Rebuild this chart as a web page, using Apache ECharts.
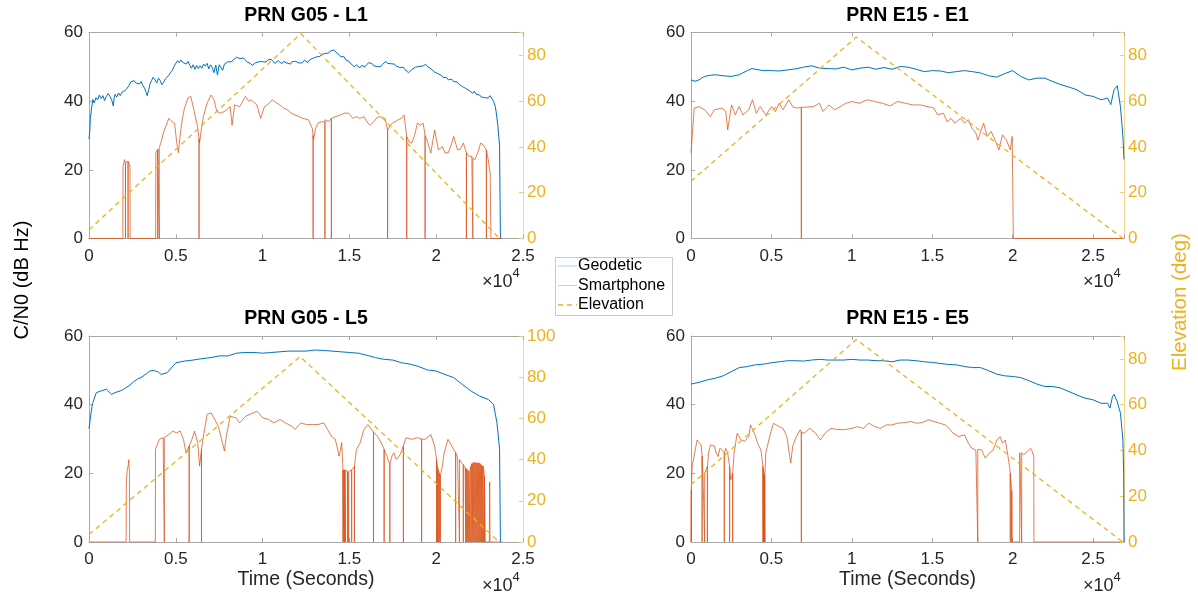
<!DOCTYPE html>
<html>
<head>
<meta charset="utf-8">
<script src="https://cdn.jsdelivr.net/npm/echarts@6/dist/echarts.min.js"></script>
<style>
html,body{margin:0;padding:0;background:#fff;}
#chart{width:1198px;height:596px;}
</style>
</head>
<body>
<div id="chart"></div>
<script>
// ---------------- DATA ----------------
const panelTitles = ['PRN G05 - L1', 'PRN E15 - E1', 'PRN G05 - L5', 'PRN E15 - E5'];
const seriesNames = ['Geodetic', 'Smartphone', 'Elevation'];
const xTickValues = [0, 5000, 10000, 15000, 20000, 25000];
const xTickLabels = ['0', '0.5', '1', '1.5', '2', '2.5'];
const xMax = [25000, 26920, 25000, 26920];
const elevMax = [90, 90, 100, 90];

// Time (s), C/N0 (dB Hz)
const geoL1 = [[0,29],[40,31],[80,35],[150,38],[220,40.5],[300,39.5],[400,41],[500,40.4],[600,41.8],[700,40.8],[800,41.6],[900,40.2],[1000,41.4],[1100,42.2],[1200,41.5],[1300,40.5],[1400,38.6],[1450,41],[1500,42],[1600,41.2],[1700,42.4],[1800,41.6],[1900,42.6],[2000,42.3],[2100,43.2],[2200,43.8],[2300,44.5],[2400,45.6],[2500,45.2],[2600,46],[2700,45.3],[2800,45.8],[2900,45],[3000,45.7],[3100,44.6],[3200,43.8],[3300,42.5],[3350,41.6],[3450,43.5],[3500,44.8],[3600,46],[3700,47],[3800,46.2],[3900,45.3],[4000,46.7],[4100,46],[4200,44.8],[4300,45.5],[4400,46.5],[4500,46.2],[4600,47.5],[4700,48.4],[4800,49],[4900,50.2],[5000,50.6],[5100,51.8],[5200,51.2],[5300,52],[5400,51.3],[5500,51.5],[5600,50.8],[5700,51.6],[5800,50.5],[5900,49.6],[6000,50.6],[6100,49.3],[6200,50.4],[6300,49.5],[6400,50.3],[6500,49.6],[6600,50.8],[6700,50.2],[6800,51],[6900,49.4],[7000,50.6],[7100,49.8],[7200,48.3],[7300,50.5],[7400,47.6],[7500,50.6],[7600,51],[7700,49],[7800,50.8],[7900,51.2],[8000,51.5],[8100,52],[8200,51.4],[8300,52],[8400,52.4],[8500,52.8],[8600,53.1],[8700,52.4],[8800,52.2],[8900,52.6],[9000,52],[9100,51.4],[9200,51.8],[9300,51],[9400,50.4],[9500,50.6],[9600,51.2],[9700,50.8],[9800,51.5],[9900,51],[10000,51.5],[10100,51.9],[10200,51.4],[10300,52],[10400,51.6],[10500,52.2],[10600,51.7],[10700,51],[10800,51.2],[10900,51.8],[11000,51.3],[11100,50.9],[11200,51.6],[11300,51.8],[11400,51.1],[11500,51.3],[11600,50.8],[11700,51.5],[11800,51],[11900,51.6],[12000,51.5],[12100,51.1],[12200,51.6],[12300,51.2],[12400,51.9],[12500,51.7],[12600,51.3],[12700,52],[12800,52],[12900,52.5],[13000,52.5],[13100,52.9],[13200,52.4],[13300,53],[13400,53.6],[13500,53.5],[13600,53.9],[13700,53.6],[13800,54],[13900,54.6],[14000,54.5],[14100,54.9],[14200,54.8],[14300,54],[14400,53.6],[14500,53],[14600,52.6],[14700,52.9],[14800,52],[14900,51.7],[15000,51.5],[15100,50.8],[15200,50.3],[15300,50],[15400,50.6],[15500,50.1],[15600,49.7],[15700,50.4],[15800,50.5],[15900,50],[16000,50.6],[16100,51.2],[16200,50.7],[16300,51],[16400,50.3],[16500,50.6],[16600,50.1],[16700,50.4],[16800,50],[16900,50.7],[17000,51.1],[17100,51.6],[17200,51],[17300,51.5],[17400,50.9],[17500,51.3],[17600,50.8],[17700,50.2],[17800,50.5],[17900,49.8],[18000,49.6],[18100,49.9],[18200,49.2],[18300,49],[18400,48.3],[18500,48.6],[18600,49.2],[18700,49.5],[18800,49.9],[18900,50.4],[19000,50.1],[19100,50.6],[19200,50.2],[19300,50.5],[19400,50.7],[19500,50.1],[19600,49.6],[19700,49.4],[19800,49],[19900,48.5],[20000,48.2],[20100,48],[20200,47.6],[20300,47.5],[20400,46.9],[20500,46.7],[20600,46.9],[20700,46.2],[20800,46],[20900,46.4],[21000,45.7],[21100,45.2],[21200,45.6],[21300,45],[21400,44.6],[21500,44.3],[21600,44.8],[21700,43.7],[21800,43.5],[21900,43.1],[22000,42.8],[22100,42.3],[22200,42.9],[22300,42],[22400,41.5],[22500,41.8],[22600,41.2],[22700,41.6],[22800,41],[22900,40.5],[23000,40.9],[23100,41.6],[23150,42],[23200,41.2],[23300,40],[23400,38.5],[23450,37],[23550,33],[23650,27],[23700,0]];
const phoneL1 = [[0,0],[1950,0],[1960,21],[2050,23],[2200,22],[2300,23],[2360,21],[2370,0],[3840,0],[3850,25],[4000,26],[4150,28],[4300,31],[4450,33],[4600,35],[4800,34],[4930,33.6],[5050,28],[5150,25],[5250,30],[5370,34.6],[5500,38],[5700,40.9],[5860,41.4],[6040,37.5],[6250,32.6],[6370,27.8],[6450,31],[6590,35.5],[6800,39.4],[7030,41.8],[7200,40.4],[7360,37],[7580,36.5],[7800,37],[7900,37.5],[8130,38.4],[8240,33],[8390,38.9],[8680,38.4],[9010,41.4],[9200,40],[9340,40.4],[9670,38.9],[9890,35],[10110,38.4],[10300,39],[10550,40.4],[10800,39.5],[10990,38.9],[11200,38],[11430,37.5],[11650,36.5],[11870,36],[12100,35.5],[12310,35],[12640,34.6],[12860,32.1],[12930,28.7],[13050,32],[13190,33.6],[13400,34],[13600,34.6],[13800,34],[13960,35],[14200,35.5],[14510,36],[14700,36.5],[14960,36.5],[15200,35],[15400,35.5],[15600,35],[15840,35.5],[16060,33.6],[16200,33],[16390,34],[16550,35],[16720,35.5],[17050,35],[17200,31.6],[17350,33],[17490,33.6],[17820,34.6],[18000,35],[18150,36],[18300,29.7],[18450,28],[18590,27.8],[18750,30],[18920,33.6],[19100,33],[19250,33.6],[19360,30],[19470,28.7],[19690,24.9],[19910,31.6],[20130,25.8],[20350,26.8],[20500,25],[20680,24.9],[20850,27],[21010,29.7],[21230,25.8],[21400,26],[21560,27.8],[21740,25],[21890,23.9],[22050,24],[22220,22.9],[22400,25],[22560,27.8],[22710,27.3],[22890,25.8],[23000,22.9],[23110,19],[23150,0],[23800,0]];
const dropsL1 = [[2100,22],[2250,22.5],[3960,26],[4050,26.5],[6340,29],[12910,30],[13590,34],[13960,35],[17200,31.6],[18300,29.7],[19360,30],[21740,25],[22110,23.5],[22890,25.8]];
const elevL1 = [[0,3.8],[12200,89.5],[23650,0]];

const geoE1 = [[0,46.2],[250,45.8],[500,46.2],[750,47],[1000,47.4],[1500,47.7],[2000,47.4],[2500,47.2],[3000,47.7],[3500,48.9],[3800,49.5],[4000,49.3],[4500,48.9],[5000,48.9],[5500,48.8],[6000,49.1],[6500,49.4],[7000,49.9],[7500,50.3],[8000,49.6],[8500,49.5],[9000,49.4],[9500,49.9],[10000,49.1],[10500,49.6],[11000,49.9],[11500,49.3],[12000,49.8],[12500,49.3],[13000,50.1],[13500,49.9],[14000,49.3],[14500,48.6],[15000,48.9],[15500,48.8],[16000,48.3],[16500,48.6],[17000,48.9],[17500,48.6],[18000,48.2],[18500,47.4],[19000,47],[19500,48],[20000,48.9],[20500,47.2],[21000,46.2],[21500,46.7],[22000,46.7],[22500,45.7],[23000,44.8],[23500,44.1],[24000,43.3],[24500,41.8],[25000,41.4],[25500,40.4],[25900,40.9],[26100,39],[26300,43.3],[26500,44.5],[26700,38.4],[26850,30],[26920,23]];
const phoneE1 = [[0,25],[80,30],[200,38],[500,38.4],[850,37.5],[1210,35.5],[1450,37.5],[1920,38],[2160,37],[2280,31.6],[2520,38.9],[2750,36],[2990,38.4],[3230,36],[3590,37.5],[3820,40.4],[4060,36.5],[4300,38.4],[4650,36],[5010,38.4],[5250,37],[5480,39.4],[5720,37.5],[6080,40.4],[6320,38.4],[6550,38],[6860,38.2],[7260,38.3],[7620,38.4],[7980,39.4],[8210,37],[8570,38.9],[8930,37.5],[9280,38.4],[9640,39.4],[10000,39.9],[10470,39.4],[10950,40.4],[11420,39.9],[11900,39.4],[12370,38.6],[12840,39.9],[13320,39.4],[13790,38.9],[14270,38.9],[14740,38.4],[15100,38],[15330,36],[15690,36.5],[15930,34],[16170,35],[16400,33.6],[16760,35],[17000,33.6],[17240,34.6],[17470,32.1],[17710,30.7],[17830,28.7],[18190,33.6],[18420,29.7],[18660,31.2],[18900,28.7],[19140,25.8],[19370,30.2],[19610,28.7],[19850,25.8],[19970,29.7],[20040,0],[26920,0]];
const dropsE1 = [[6860,38.2]];
const elevE1 = [[0,25],[10280,88],[26850,0]];

const geoL5 = [[0,33],[100,37],[200,40.3],[420,43.5],[700,44],[1000,44.5],[1300,43],[1500,43.5],[1800,44],[2000,44.5],[2300,45.5],[2500,46.4],[2800,47.5],[3000,47.9],[3300,49],[3500,49.8],[3700,50],[4000,49.5],[4160,48.8],[4500,49.3],[4800,51],[5000,52.2],[5500,52.7],[6000,53],[6500,53.4],[7000,53.7],[7500,54.2],[8000,54.2],[8500,55],[9000,55.2],[9500,55.2],[10000,55],[10500,55.2],[11000,55.4],[11500,55.6],[12000,55.6],[12500,55.6],[13000,55.9],[13500,55.8],[14000,55.6],[14500,55.4],[15000,55.2],[15500,55],[16000,54.4],[16500,53.7],[17000,53.2],[17500,53],[18000,52.2],[18500,51.8],[19000,51.1],[19500,50.1],[20000,49.8],[20500,48.8],[21000,47.9],[21500,45.9],[22000,44],[22500,42.5],[23000,41.5],[23300,40.1],[23500,34.7],[23650,27],[23700,0]];
const phoneL5 = [[0,0],[2140,0],[2150,17],[2200,21],[2250,22],[2290,24],[2330,20],[2340,0],[3820,0],[3830,27],[4050,29.9],[4270,30.4],[4600,31.3],[4820,32.3],[5040,31.8],[5260,32.3],[5440,29.9],[5590,26],[5770,28],[5930,29.9],[6080,32.3],[6260,28.9],[6370,22.1],[6480,27],[6590,30.8],[6810,37.2],[7030,37.6],[7250,35.7],[7470,33.3],[7690,28.9],[7800,26.5],[7910,30.8],[8130,36.6],[8460,36.2],[8680,34.7],[9010,36.6],[9450,37.6],[9670,38.1],[10000,36.2],[10330,35.7],[10660,34.7],[10990,35.7],[11320,34.7],[11650,33.8],[11870,32.8],[12200,34.7],[12530,34.2],[12860,34.2],[13190,34.2],[13520,34.7],[13740,32.8],[13960,30.8],[14190,29.9],[14410,25],[14560,28.9],[14630,21.1],[14800,21],[14960,20.5],[15180,21],[15300,22],[15400,26.9],[15620,28.9],[15840,32.8],[16060,34.2],[16280,32.8],[16610,30.8],[16830,28.9],[17000,27],[17160,25],[17330,22.6],[17450,25],[17560,26],[17710,24],[17930,25.5],[18110,28],[18260,30.4],[18590,29.9],[18920,30.4],[19160,30],[19360,29.9],[19690,31.3],[19910,27.9],[20070,22.1],[20240,19.2],[20350,22],[20460,26],[20680,29.9],[20900,27.9],[21120,26],[21230,24.5],[21450,23.1],[21670,21.6],[21890,20.6],[22110,23.1],[22440,23.1],[22710,22.1],[22780,19.2],[22830,0],[23060,0],[23080,17.5],[23100,0],[23800,0]];
const dropsL5 = [[4340,30.5],[5770,28],[6480,27],[14630,21],[14680,21],[14720,21],[14780,21],[14900,20.5],[14960,20.5],[15130,21],[15290,22],[16390,32],[17000,27],[17330,22.6],[18110,28],[19160,30],[20020,24],[20070,22],[20120,21],[20180,20],[20240,19.2],[21120,26],[21340,24],[21560,22.5],[21700,21.6],[21760,21.3],[21820,21],[21880,20.6],[21940,21],[22000,22],[22060,22.8],[22120,23.1],[22180,23.2],[22240,23.2],[22300,23.1],[22360,23],[22420,23.1],[22480,23],[22540,22.8],[22600,22.5],[22660,22.2],[22720,22],[22780,19.2]];
const elevL5 = [[0,3.6],[12160,90],[23620,0]];

const geoE5 = [[0,46],[500,46.5],[1000,47.2],[1500,47.7],[2000,48.4],[2500,49.6],[3000,50.8],[3500,51.1],[4000,51.6],[4500,51.8],[5000,52.2],[5500,52.5],[6000,52.8],[6500,52.8],[7000,52.7],[7500,53],[8000,53.2],[8500,53],[9000,53],[9500,53],[10000,53.2],[10500,53],[11000,53],[11500,52.8],[12000,52.8],[12500,52.5],[13000,53],[13500,53],[14000,52.8],[14500,52.5],[15000,52.3],[15500,52],[16000,51.7],[16500,51.6],[17000,51.1],[17500,50.8],[18000,50.8],[18500,49.9],[19000,48.9],[19500,48.4],[20000,48.2],[20500,47.9],[21000,47],[21500,46],[22000,45.3],[22500,45.3],[23000,44.8],[23500,43.8],[24000,42.8],[24500,41.9],[25000,41.4],[25500,40.4],[25900,40.4],[26050,39],[26200,42.3],[26300,43],[26500,40.9],[26700,37.5],[26850,30],[26900,20],[26920,0]];
const phoneE5 = [[0,0],[70,22],[140,22],[380,29.7],[500,30.2],[620,28.3],[740,20],[850,20],[970,20],[1090,25.9],[1210,28.3],[1450,28],[1570,25.9],[1690,24.9],[1800,27.3],[1920,26.8],[2070,26],[2160,27.3],[2280,25.9],[2400,22],[2470,18.1],[2590,20],[2680,25.9],[2870,31.7],[3110,29.7],[3350,29.3],[3590,30.7],[3700,34.1],[3940,31.7],[4180,28.3],[4350,26.8],[4490,21],[4580,19.1],[4650,25.9],[4890,30.7],[5130,34.6],[5480,33.6],[5720,33.1],[5960,30.7],[6080,26.8],[6200,23],[6320,27.8],[6550,30.7],[6790,32.7],[7030,31.7],[7380,33.1],[7740,31.7],[8050,29.7],[8330,31.7],[8690,33.1],[9050,32.8],[9520,32.7],[10000,33.1],[10350,33.6],[10710,33.1],[11060,34.6],[11420,33.6],[11780,33.1],[12130,34.1],[12490,34.1],[12840,34.6],[13320,34.8],[13670,35.1],[14030,34.6],[14390,34.8],[14740,35.6],[15100,35.1],[15460,34.6],[15810,34.1],[16050,33.1],[16290,31.7],[16640,30.7],[17000,31.2],[17240,28.8],[17470,27.3],[17710,26.8],[17830,27],[18070,26.8],[18300,24.4],[18540,25.9],[18780,26.8],[19020,29.7],[19210,30.7],[19370,28.8],[19540,29.7],[19680,25.9],[19800,22],[19900,17.2],[19960,0],[20430,0],[20440,26],[20490,26.4],[20680,25.4],[20920,26.4],[21110,27.3],[21200,26.5],[21310,25],[21320,0],[26920,0]];
const dropsE5 = [[20,15],[690,25],[850,20],[1020,22],[2070,26],[2400,22],[2590,20],[4470,22],[4510,21],[4530,20],[4560,19.5],[4600,20],[6860,32],[17830,27],[19850,20],[19940,15],[20560,26]];
const elevE5 = [[0,25],[10280,88.5],[26850,0]];

const geoData = [geoL1, geoE1, geoL5, geoE5];
const phoneData = [phoneL1, phoneE1, phoneL5, phoneE5];
const dropData = [dropsL1, dropsE1, dropsL5, dropsE5];
const elevData = [elevL1, elevE1, elevL5, elevE5];

// ---------------- LAYOUT / STYLE ----------------
const FONT = "'Liberation Sans', Arial, Helvetica, sans-serif";
const C_GEO = '#0072BD', C_PHONE = '#D95319', C_ELEV = '#EDB120';
const C_BOX = '#a8a8a8', C_TXT = '#262626';
const grids = [
  {left: 89, top: 32.5, width: 434, height: 206},
  {left: 691, top: 32.5, width: 433, height: 206},
  {left: 89, top: 336, width: 434, height: 206},
  {left: 691, top: 336, width: 433, height: 206}
];

function withDrops(base, drops) {
  const pts = base.map(p => [p[0], p[1]]);
  drops.forEach(d => { pts.push([d[0], d[1]], [d[0], 0], [d[0], d[1]]); });
  return pts.sort((a, b) => a[0] - b[0]);
}

const xAxes = [], yAxes = [], series = [], graphics = [];
grids.forEach((g, i) => {
  const xTickFmt = v => { const k = xTickValues.indexOf(v); return k >= 0 ? xTickLabels[k] : ''; };
  xAxes.push({
    gridIndex: i, type: 'value', position: 'bottom', min: 0, max: xMax[i], interval: 5000,
    axisLine: {show: true, onZero: false, lineStyle: {color: C_BOX, width: 1}},
    axisTick: {show: true, inside: true, length: 4, lineStyle: {color: C_BOX}},
    axisLabel: {formatter: xTickFmt, fontSize: 17, color: C_TXT, fontFamily: FONT, margin: 9},
    splitLine: {show: false}
  });
  xAxes.push({
    gridIndex: i, type: 'value', position: 'top', min: 0, max: xMax[i], interval: 5000,
    axisLine: {show: true, onZero: false, lineStyle: {color: C_BOX, width: 1}},
    axisTick: {show: true, inside: true, length: 4, lineStyle: {color: C_BOX}},
    axisLabel: {show: false}, splitLine: {show: false}
  });
  yAxes.push({
    gridIndex: i, type: 'value', position: 'left', min: 0, max: 60, interval: 20,
    axisLine: {show: true, onZero: false, lineStyle: {color: C_BOX, width: 1}},
    axisTick: {show: true, inside: true, length: 4, lineStyle: {color: C_BOX}},
    axisLabel: {fontSize: 17, color: C_TXT, fontFamily: FONT, margin: 6},
    splitLine: {show: false}
  });
  yAxes.push({
    gridIndex: i, type: 'value', position: 'right', min: 0, max: elevMax[i], interval: 20,
    axisLine: {show: true, onZero: false, lineStyle: {color: '#f3d58e', width: 1}},
    axisTick: {show: true, inside: true, length: 4, lineStyle: {color: '#f0cc78'}},
    axisLabel: {fontSize: 17, color: C_ELEV, fontFamily: FONT, margin: 4,
      formatter: v => (v % 20 === 0 ? String(v) : '')},
    splitLine: {show: false}
  });
  series.push({
    name: seriesNames[0], type: 'line', xAxisIndex: 2 * i, yAxisIndex: 2 * i,
    data: geoData[i], symbol: 'none', lineStyle: {color: C_GEO, width: 1}, itemStyle: {color: C_GEO}, z: 2
  });
  series.push({
    name: seriesNames[1], type: 'line', xAxisIndex: 2 * i, yAxisIndex: 2 * i,
    data: withDrops(phoneData[i], dropData[i]), symbol: 'none',
    lineStyle: {color: C_PHONE, width: 0.75}, itemStyle: {color: C_PHONE}, z: 3
  });
  series.push({
    name: seriesNames[2], type: 'line', xAxisIndex: 2 * i, yAxisIndex: 2 * i + 1,
    data: elevData[i], symbol: 'none',
    lineStyle: {color: C_ELEV, width: 1.3, type: [5, 4]}, itemStyle: {color: C_ELEV}, z: 4
  });

  const cx = g.left + g.width / 2;
  const bottom = g.top + g.height;
  const right = g.left + g.width;
  graphics.push({type: 'text', x: cx, y: g.top - 17,
    style: {text: panelTitles[i], textAlign: 'center', textVerticalAlign: 'middle',
      fontSize: 19.5, fontWeight: 'bold', fontFamily: FONT, fill: '#000'}});
  graphics.push({type: 'text', x: right - 10.5, y: bottom + 44,
    style: {text: '\u00d710', textAlign: 'right', textVerticalAlign: 'middle',
      fontSize: 18, fontFamily: FONT, fill: C_TXT}});
  graphics.push({type: 'text', x: right - 10.5, y: bottom + 35,
    style: {text: '4', textAlign: 'left', textVerticalAlign: 'middle',
      fontSize: 13, fontFamily: FONT, fill: C_TXT}});
  if (i >= 2) {
    graphics.push({type: 'text', x: cx, y: bottom + 38,
      style: {text: 'Time (Seconds)', textAlign: 'center', textVerticalAlign: 'middle',
        fontSize: 19.5, fontFamily: FONT, fill: C_TXT}});
  }
});

graphics.push({type: 'text', x: 22, y: 280, rotation: Math.PI / 2,
  style: {text: 'C/N0 (dB Hz)', textAlign: 'center', textVerticalAlign: 'middle',
    fontSize: 20, fontFamily: FONT, fill: '#000'}});
graphics.push({type: 'text', x: 1180, y: 302, rotation: Math.PI / 2,
  style: {text: 'Elevation (deg)', textAlign: 'center', textVerticalAlign: 'middle',
    fontSize: 20.5, fontFamily: FONT, fill: C_ELEV}});

const LG = {x: 555, y: 257, w: 117, h: 58};
const legendColors = [C_GEO, C_PHONE, C_ELEV];
const legendRows = [266, 285.5, 305];
graphics.push({type: 'rect', shape: {x: LG.x + 0.5, y: LG.y + 0.5, width: LG.w, height: LG.h},
  style: {fill: '#fff', stroke: '#c8c8c8', lineWidth: 1}, z: 10});
seriesNames.forEach((nm, k) => {
  graphics.push({type: 'line', shape: {x1: LG.x + 3, y1: legendRows[k], x2: LG.x + 22, y2: legendRows[k]},
    style: {stroke: legendColors[k], lineWidth: k === 2 ? 1.3 : 1, opacity: k === 2 ? 1 : 0.35,
      lineDash: k === 2 ? [5, 4] : null}, z: 11});
  graphics.push({type: 'text', x: LG.x + 23, y: legendRows[k],
    style: {text: nm, textAlign: 'left', textVerticalAlign: 'middle', fontSize: 16,
      fontFamily: FONT, fill: '#000'}, z: 11});
});

const chart = echarts.init(document.getElementById('chart'), null, {renderer: 'canvas'});
chart.setOption({
  animation: false,
  backgroundColor: '#fff',
  grid: grids.map(g => Object.assign({containLabel: false}, g)),
  xAxis: xAxes,
  yAxis: yAxes,
  series: series,
  graphic: {elements: graphics}
});
</script>
</body>
</html>
